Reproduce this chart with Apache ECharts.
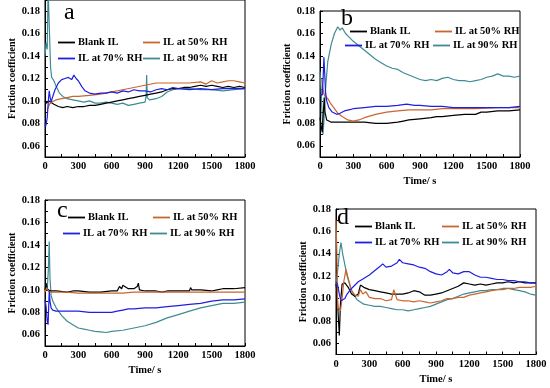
<!DOCTYPE html>
<html><head><meta charset="utf-8">
<script src="https://cdn.jsdelivr.net/npm/echarts@6/dist/echarts.min.js"></script>
<style>html,body{margin:0;padding:0;background:#fff}#c{width:550px;height:388px}</style>
</head><body><div id="c"></div>
<script>
// ---- Tick labels ----
const xTickLabels = [0, 300, 600, 900, 1200, 1500, 1800];
const yTickLabels = [0.06, 0.08, 0.10, 0.12, 0.14, 0.16, 0.18];
const seriesNames = ['Blank IL', 'IL at 50% RH', 'IL at 70% RH', 'IL at 90% RH'];
const panelLetters = ['a', 'b', 'c', 'd'];

// ---- Panel a ----
const tA_blank = [0,10,20,35,50,80,120,160,200,250,300,350,400,450,500,550,600,650,700,750,800,850,900,950,1000,1050,1100,1150,1200,1250,1300,1350,1400,1450,1500,1550,1600,1650,1700,1750,1800];
const vA_blank = [0.100,0.098,0.099,0.100,0.099,0.097,0.095,0.094,0.095,0.094,0.095,0.095,0.096,0.096,0.097,0.098,0.099,0.100,0.101,0.102,0.103,0.104,0.105,0.106,0.107,0.108,0.110,0.111,0.111,0.112,0.112,0.113,0.114,0.113,0.114,0.113,0.112,0.113,0.112,0.113,0.112];
const tA_50 = [20,40,60,80,100,150,200,250,300,400,500,600,700,800,900,1000,1100,1200,1300,1400,1450,1500,1550,1600,1650,1700,1750,1800];
const vA_50 = [0.092,0.097,0.099,0.100,0.101,0.102,0.103,0.104,0.104,0.105,0.106,0.108,0.110,0.112,0.114,0.116,0.116,0.116,0.116,0.117,0.115,0.118,0.116,0.117,0.118,0.118,0.117,0.116];
const tA_70 = [0,5,10,20,30,38,45,55,70,90,120,150,180,210,240,260,280,300,330,360,400,450,500,550,600,650,700,750,800,850,900,950,1000,1050,1100,1150,1200,1300,1400,1500,1600,1700,1800];
const vA_70 = [0.080,0.077,0.079,0.085,0.100,0.109,0.104,0.099,0.104,0.110,0.116,0.119,0.120,0.121,0.119,0.123,0.120,0.118,0.113,0.109,0.107,0.106,0.107,0.107,0.108,0.107,0.109,0.108,0.110,0.109,0.109,0.108,0.110,0.111,0.110,0.112,0.111,0.110,0.111,0.110,0.111,0.111,0.111];
const tA_90 = [0,10,20,28,35,42,50,60,80,100,130,160,200,250,300,350,400,450,500,550,600,650,700,750,800,850,900,910,915,920,940,1000,1050,1100,1150,1200,1300,1400,1500,1600,1700,1800];
const vA_90 = [0.140,0.152,0.146,0.200,0.200,0.200,0.130,0.121,0.118,0.113,0.107,0.104,0.102,0.101,0.100,0.099,0.100,0.098,0.098,0.099,0.098,0.097,0.098,0.096,0.097,0.098,0.099,0.104,0.123,0.103,0.101,0.102,0.104,0.108,0.110,0.111,0.111,0.110,0.110,0.109,0.110,0.111];

// ---- Panel b ----
const tB_blank = [0,10,20,30,38,45,60,80,100,150,200,300,400,500,600,700,750,800,900,1000,1050,1100,1200,1300,1400,1450,1500,1600,1700,1800];
const vB_blank = [0.085,0.078,0.072,0.090,0.103,0.090,0.083,0.082,0.081,0.081,0.081,0.081,0.081,0.080,0.080,0.081,0.082,0.083,0.084,0.085,0.086,0.086,0.087,0.088,0.088,0.090,0.090,0.091,0.091,0.092];
const tB_50 = [15,25,35,50,70,100,130,160,200,250,300,350,400,500,600,700,800,900,1000,1100,1200,1400,1600,1800];
const vB_50 = [0.120,0.112,0.106,0.104,0.102,0.097,0.093,0.089,0.086,0.083,0.082,0.083,0.085,0.088,0.090,0.091,0.092,0.092,0.092,0.093,0.093,0.093,0.094,0.094];
const tB_70 = [0,10,20,28,35,42,50,60,80,110,150,180,220,260,300,400,500,600,700,780,850,900,1000,1100,1200,1300,1400,1500,1600,1700,1800];
const vB_70 = [0.106,0.107,0.105,0.120,0.139,0.125,0.108,0.100,0.094,0.090,0.088,0.089,0.091,0.092,0.093,0.094,0.095,0.095,0.096,0.097,0.096,0.096,0.095,0.095,0.094,0.094,0.094,0.094,0.094,0.094,0.095];
const tB_90 = [0,10,20,27,35,50,70,100,130,160,180,200,230,260,300,350,400,450,500,550,600,650,700,750,800,850,900,950,1000,1050,1100,1150,1200,1250,1300,1350,1400,1450,1500,1550,1600,1650,1700,1750,1800];
const vB_90 = [0.126,0.110,0.085,0.070,0.082,0.111,0.135,0.150,0.160,0.166,0.163,0.165,0.160,0.157,0.153,0.149,0.145,0.141,0.137,0.134,0.131,0.129,0.128,0.125,0.123,0.121,0.119,0.118,0.119,0.118,0.120,0.121,0.119,0.118,0.118,0.117,0.118,0.119,0.121,0.122,0.124,0.122,0.122,0.121,0.122];

// ---- Panel c ----
const tC_blank = [0,10,20,30,45,60,100,200,250,300,400,500,600,650,670,690,700,750,800,830,840,850,900,1000,1050,1100,1200,1300,1310,1320,1400,1500,1550,1600,1700,1800];
const vC_blank = [0.100,0.106,0.101,0.100,0.099,0.099,0.099,0.098,0.099,0.099,0.098,0.098,0.099,0.099,0.103,0.101,0.104,0.101,0.101,0.103,0.106,0.100,0.099,0.099,0.098,0.099,0.099,0.099,0.102,0.100,0.100,0.099,0.100,0.101,0.101,0.102];
const tC_50 = [0,15,30,50,100,200,300,400,500,600,700,800,900,1000,1100,1200,1300,1400,1500,1600,1700,1800];
const vC_50 = [0.098,0.102,0.099,0.098,0.098,0.098,0.097,0.097,0.097,0.097,0.097,0.098,0.098,0.098,0.098,0.098,0.098,0.098,0.098,0.098,0.098,0.098];
const tC_70 = [0,10,20,28,38,45,55,70,100,200,300,400,500,600,650,700,750,800,900,1000,1100,1200,1300,1400,1500,1600,1700,1800];
const vC_70 = [0.091,0.085,0.072,0.069,0.099,0.090,0.084,0.082,0.081,0.081,0.081,0.080,0.080,0.080,0.081,0.082,0.083,0.083,0.084,0.084,0.085,0.086,0.087,0.088,0.090,0.091,0.091,0.092];
const tC_90 = [0,10,20,30,38,45,55,70,100,150,200,250,300,350,400,450,500,550,600,700,800,900,1000,1100,1200,1300,1400,1500,1600,1700,1800];
const vC_90 = [0.103,0.105,0.100,0.118,0.143,0.110,0.095,0.090,0.084,0.077,0.072,0.069,0.066,0.065,0.064,0.063,0.0625,0.062,0.063,0.064,0.066,0.068,0.071,0.075,0.078,0.081,0.084,0.086,0.088,0.088,0.089];

// ---- Panel d ----
const tD_blank = [0,10,20,30,40,55,80,110,140,170,200,220,250,300,350,400,450,500,550,600,650,700,750,800,850,900,950,1000,1050,1100,1150,1200,1250,1300,1350,1400,1450,1500,1550,1600,1650,1700,1750,1800];
const vD_blank = [0.113,0.105,0.085,0.067,0.095,0.113,0.114,0.110,0.104,0.102,0.104,0.112,0.110,0.108,0.107,0.106,0.105,0.104,0.104,0.104,0.105,0.107,0.106,0.103,0.103,0.104,0.105,0.107,0.109,0.111,0.114,0.113,0.112,0.113,0.112,0.113,0.114,0.114,0.115,0.114,0.115,0.114,0.114,0.114];
const tD_50 = [0,8,15,25,40,55,70,90,110,140,170,200,220,240,270,300,350,400,450,500,520,550,600,650,700,750,800,850,900,950,1000,1050,1100,1150,1200,1250,1300,1350,1400,1450,1500,1550,1600,1650,1700,1750,1800];
const vD_50 = [0.170,0.140,0.090,0.092,0.089,0.100,0.115,0.126,0.118,0.107,0.103,0.102,0.108,0.104,0.106,0.101,0.100,0.100,0.098,0.099,0.108,0.099,0.098,0.098,0.097,0.098,0.097,0.096,0.097,0.098,0.100,0.100,0.101,0.101,0.103,0.104,0.105,0.106,0.107,0.108,0.108,0.109,0.109,0.110,0.110,0.110,0.111];
const tD_70 = [0,15,30,45,60,80,100,130,160,200,250,300,350,400,420,450,500,550,570,600,650,700,750,800,850,900,950,1000,1020,1050,1100,1150,1200,1250,1300,1350,1400,1450,1500,1550,1600,1650,1700,1750,1800];
const vD_70 = [0.115,0.112,0.104,0.098,0.097,0.100,0.104,0.108,0.111,0.115,0.118,0.121,0.125,0.129,0.131,0.128,0.129,0.132,0.135,0.132,0.131,0.130,0.128,0.127,0.124,0.122,0.121,0.124,0.126,0.123,0.122,0.124,0.124,0.121,0.119,0.119,0.118,0.117,0.117,0.116,0.116,0.115,0.115,0.114,0.114];
const tD_90 = [0,15,30,45,60,80,100,130,160,190,220,250,300,350,400,450,500,550,600,650,700,750,800,850,900,950,1000,1050,1100,1150,1200,1250,1300,1350,1400,1450,1500,1550,1600,1650,1700,1750,1800];
const vD_90 = [0.110,0.125,0.140,0.150,0.140,0.130,0.120,0.110,0.103,0.099,0.097,0.095,0.094,0.093,0.093,0.092,0.091,0.090,0.090,0.089,0.090,0.091,0.092,0.093,0.095,0.097,0.099,0.100,0.102,0.104,0.105,0.106,0.107,0.107,0.108,0.108,0.109,0.109,0.108,0.107,0.106,0.104,0.103];

const colors = ['#000000', '#c8662e', '#1f1fe0', '#3f8b93'];

const panels = [
  { grid: {left:45, top:-1, width:200, height:158}, ymax:0.19, xName:'',
    data: [[tA_blank,vA_blank],[tA_50,vA_50],[tA_70,vA_70],[tA_90,vA_90]],
    letter:[64,1],
    leg:[[58,44],[143,44],[58,60],[143,60]] },
  { grid: {left:320, top:11, width:200, height:146}, ymax:0.18, xName:'Time/ s',
    data: [[tB_blank,vB_blank],[tB_50,vB_50],[tB_70,vB_70],[tB_90,vB_90]],
    letter:[341,7],
    leg:[[350,33],[435,33],[345,47],[433,47]] },
  { grid: {left:45, top:200, width:200, height:146}, ymax:0.18, xName:'Time/ s',
    data: [[tC_blank,vC_blank],[tC_50,vC_50],[tC_70,vC_70],[tC_90,vC_90]],
    letter:[57,199],
    leg:[[68,219],[153,219],[63,235],[150,235]] },
  { grid: {left:336, top:209, width:200, height:145.5}, ymax:0.18, xName:'Time/ s',
    data: [[tD_blank,vD_blank],[tD_50,vD_50],[tD_70,vD_70],[tD_90,vD_90]],
    letter:[337,206],
    leg:[[355,228],[442,228],[355,244],[442,244]] }
];

const FONT = 'Liberation Serif';
const grids = [], xAxes = [], yAxes = [], series = [], legends = [], graphics = [];
panels.forEach((p, gi) => {
  grids.push(Object.assign({show:true, borderColor:'#000', borderWidth:1, backgroundColor:'transparent'}, p.grid));
  xAxes.push({
    type:'value', gridIndex:gi, min:0, max:1800, interval:150,
    name:p.xName, nameLocation:'middle', nameGap:19,
    nameTextStyle:{fontFamily:FONT, fontWeight:'bold', fontSize:10.5, color:'#000'},
    axisLine:{lineStyle:{color:'#000', width:1}},
    axisTick:{inside:true, length:3, lineStyle:{color:'#000'}},
    axisLabel:{fontFamily:FONT, fontWeight:'bold', fontSize:10.5, color:'#000', margin:4,
      showMinLabel:true, showMaxLabel:true,
      formatter: v => xTickLabels.indexOf(Math.round(v)) >= 0 ? String(Math.round(v)) : ''},
    splitLine:{show:false}
  });
  yAxes.push({
    type:'value', gridIndex:gi, min:0.05, max:p.ymax, interval:0.01,
    name:'Friction coefficient', nameLocation:'middle', nameGap:28, nameRotate:90,
    nameTextStyle:{fontFamily:FONT, fontWeight:'bold', fontSize:10, color:'#000'},
    axisLine:{lineStyle:{color:'#000', width:1}},
    axisTick:{inside:true, length:3, lineStyle:{color:'#000'}},
    axisLabel:{fontFamily:FONT, fontWeight:'bold', fontSize:10.5, color:'#000', margin:5,
      showMinLabel:true, showMaxLabel:true,
      formatter: v => { const k = Math.round(v*100); return yTickLabels.some(t => Math.round(t*100) === k) ? (k/100).toFixed(2) : ''; }},
    splitLine:{show:false}
  });
  p.data.forEach((d, si) => {
    series.push({
      type:'line', name:seriesNames[si], xAxisIndex:gi, yAxisIndex:gi,
      data: d[0].map((t, i) => [t, d[1][i]]),
      symbol:'none', showSymbol:false, clip:true,
      lineStyle:{color:colors[si], width:1.2}, itemStyle:{color:colors[si]},
      z: si === 3 ? 2 : 3
    });
    legends.push({
      left:p.leg[si][0], top:p.leg[si][1]-7, orient:'horizontal',
      data:[seriesNames[si]], selectedMode:false,
      icon:'rect', itemWidth:17, itemHeight:1.8, itemGap:0,
      textStyle:{fontFamily:FONT, fontWeight:'bold', fontSize:10.5, color:'#000', padding:[0,0,0,-2]},
      padding:0
    });
  });
  graphics.push({type:'text', left:p.letter[0], top:p.letter[1],
    style:{text:panelLetters[gi], font:'24px "Liberation Serif"', fill:'#000'}});
});

const chart = echarts.init(document.getElementById('c'), null, {renderer:'canvas'});
chart.setOption({
  animation:false, backgroundColor:'#fff',
  grid:grids, xAxis:xAxes, yAxis:yAxes, series:series, legend:legends, graphic:graphics
});
</script></body></html>
